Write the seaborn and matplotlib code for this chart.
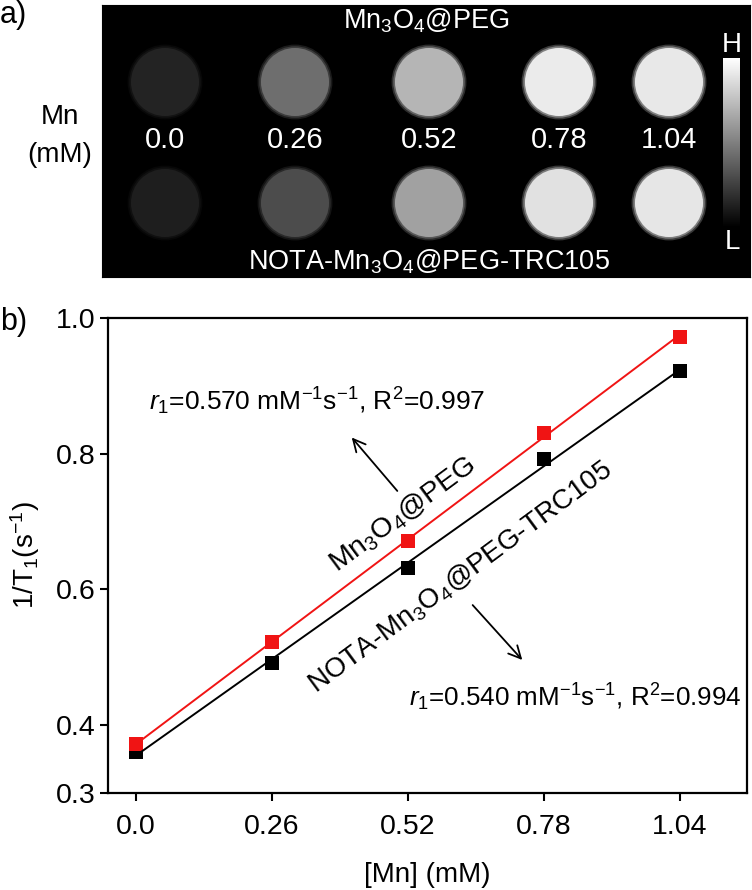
import numpy as np
import pandas as pd
import seaborn as sns
import matplotlib.pyplot as plt
from matplotlib.cm import ScalarMappable
from matplotlib.colors import Normalize

# data
conc = [0.0, 0.26, 0.52, 0.78, 1.04]
conc_labels = ['0.0', '0.26', '0.52', '0.78', '1.04']
peg_rate = [0.372, 0.522, 0.672, 0.831, 0.972]
nota_rate = [0.361, 0.492, 0.631, 0.792, 0.922]
peg_gray = [0.14, 0.43, 0.71, 0.92, 0.91]
nota_gray = [0.12, 0.30, 0.63, 0.88, 0.90]
ytick_vals = [0.3, 0.4, 0.6, 0.8, 1.0]
ytick_labels = ['0.3', '0.4', '0.6', '0.8', '1.0']

# layout of the phantom image (pixels inside the black box)
well_x = [63, 193, 327, 457, 567]
row_y = [77, 198]
label_y = 135

sns.set_style("ticks")
plt.rcParams['font.family'] = ['Liberation Sans', 'DejaVu Sans']
plt.rcParams['mathtext.fontset'] = 'custom'
plt.rcParams['mathtext.rm'] = 'Liberation Sans'
plt.rcParams['mathtext.it'] = 'Liberation Sans:italic'
plt.rcParams['text.color'] = 'black'
plt.rcParams['axes.labelcolor'] = 'black'
plt.rcParams['xtick.color'] = 'black'
plt.rcParams['ytick.color'] = 'black'

W, H = 752, 890
fig = plt.figure(figsize=(W / 100, H / 100), dpi=100)

#%% panel a
axa = fig.add_axes([102 / W, 1 - 277 / H, 648 / W, 272 / H])
axa.set_facecolor('black')
axa.set_xlim(0, 648)
axa.set_ylim(272, 0)
axa.set_xticks([])
axa.set_yticks([])
for s in axa.spines.values():
    s.set_color('black')

# soft edges: a few shrinking discs that fade in from black
for yy, vals in zip(row_y, [peg_gray, nota_gray]):
    for scale, fade in [(1.10, 0.25), (1.05, 0.55), (1.0, 1.0)]:
        axa.scatter(well_x, [yy] * 5, c=[v * fade for v in vals], cmap='gray',
                    vmin=0, vmax=1, s=2400 * scale ** 2, linewidths=0)

for xx, lab in zip(well_x, conc_labels):
    axa.text(xx, label_y, lab, color='white', fontsize=21, ha='center', va='center')

axa.text(324, 16, r'Mn$_3$O$_4$@PEG', color='white', fontsize=19.5, ha='center', va='center')
axa.text(327, 257, r'NOTA-Mn$_3$O$_4$@PEG-TRC105', color='white', fontsize=19.5,
         ha='center', va='center')

cax = fig.add_axes([723 / W, 1 - 227 / H, 17 / W, 169 / H])
cb = fig.colorbar(ScalarMappable(norm=Normalize(0, 1), cmap='gray'), cax=cax)
cb.outline.set_visible(False)
cb.set_ticks([])
fig.text(732 / W, 1 - 45 / H, 'H', color='white', fontsize=20, ha='center', va='center')
fig.text(732 / W, 1 - 242 / H, 'L', color='white', fontsize=20, ha='center', va='center')

fig.text(60 / W, 1 - 117 / H, 'Mn', fontsize=20, ha='center', va='center')
fig.text(60 / W, 1 - 155 / H, '(mM)', fontsize=20, ha='center', va='center')
fig.text(0, 1 - 15 / H, 'a)', fontsize=22, ha='left', va='center')

#%% panel b
peg = pd.DataFrame({'conc': conc, 'rate': peg_rate})
nota = pd.DataFrame({'conc': conc, 'rate': nota_rate})

ax = fig.add_axes([108 / W, 1 - 793 / H, (747 - 108) / W, (793 - 318) / H])
sns.regplot(data=nota, x='conc', y='rate', ci=None, marker='s', color='black',
            scatter_kws=dict(s=95, linewidths=0, alpha=1), line_kws=dict(lw=1.4), ax=ax)
sns.regplot(data=peg, x='conc', y='rate', ci=None, marker='s', color='#f01414',
            scatter_kws=dict(s=95, linewidths=0, alpha=1), line_kws=dict(lw=1.4), ax=ax)

ax.set_xlim(-0.0535, 1.168)
ax.set_ylim(0.3, 1.0)
ax.set_xticks(conc, conc_labels)
ax.set_yticks(ytick_vals, ytick_labels)
ax.tick_params(direction='out', length=6, width=1.5, labelsize=20.5, color='black')
ax.tick_params(axis='x', pad=9)
ax.tick_params(axis='y', pad=3)
for s in ax.spines.values():
    s.set_linewidth(1.6)
    s.set_color('black')
ax.set_xlabel('[Mn] (mM)', fontsize=20, labelpad=16)
ax.set_ylabel(r'1/T$_1$(s$^{-1}$)', fontsize=20, labelpad=10)

ax.text(0.024, 0.877,
        r'$\mathit{r}_\mathit{1}$=0.570 mM$^{-1}$s$^{-1}$, R$^2$=0.997',
        fontsize=19, ha='left', va='center')
ax.text(0.522, 0.4415,
        r'$\mathit{r}_\mathit{1}$=0.540 mM$^{-1}$s$^{-1}$, R$^2$=0.994',
        fontsize=18.7, ha='left', va='center')
arrow = dict(arrowstyle='->', lw=1.3, color='black', mutation_scale=22)
ax.annotate('', xy=(0.409, 0.827), xytext=(0.503, 0.742), arrowprops=arrow)
ax.annotate('', xy=(0.742, 0.493), xytext=(0.640, 0.580), arrowprops=arrow)

ax.text(0.511, 0.710, r'Mn$_3$O$_4$@PEG', fontsize=20.5, rotation=36.5,
        rotation_mode='anchor', ha='center', va='center')
ax.text(0.620, 0.618, r'NOTA-Mn$_3$O$_4$@PEG-TRC105', fontsize=20, rotation=36.5,
        rotation_mode='anchor', ha='center', va='center')

fig.text(0, 1 - 322 / H, 'b)', fontsize=22, ha='left', va='center')

fig.savefig('out.png', dpi=100)
